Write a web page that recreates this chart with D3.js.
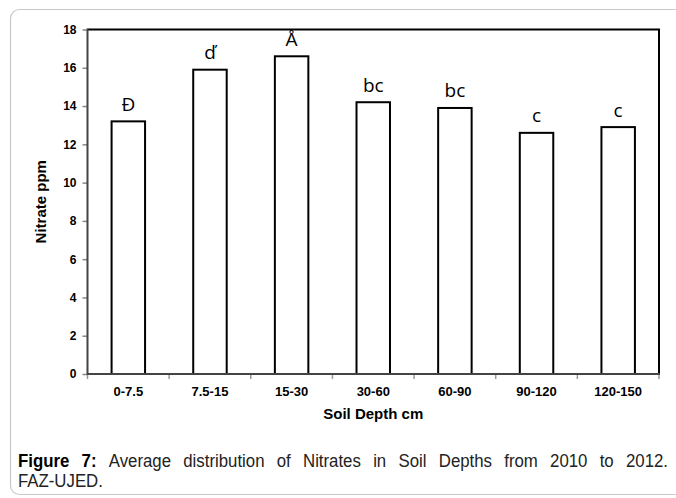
<!DOCTYPE html>
<html><head><meta charset="utf-8">
<script src="https://cdn.jsdelivr.net/npm/d3@7"></script>
<style>body{margin:0;background:#fff}svg{display:block}</style>
</head><body>
<svg id="c" width="676" height="498"></svg>
<script>
const categories = ["0-7.5","7.5-15","15-30","30-60","60-90","90-120","120-150"];
const values = [13.2, 15.9, 16.6, 14.2, 13.9, 12.6, 12.9];
const letters = ["Đ","ď","Å","bc","bc","c","c"];
const yTicks = [0,2,4,6,8,10,12,14,16,18];
const captionBold = "Figure 7:";
const captionLine1 = "Average distribution of Nitrates in Soil Depths from 2010 to 2012.";
const captionLine2 = "FAZ-UJED.";

const svg = d3.select("#c");
svg.append("rect").attr("x",10.5).attr("y",9.5).attr("width",720).attr("height",485)
  .attr("rx",9).attr("fill","#fff").attr("stroke","#c8c8c8").attr("stroke-width",1.2);

const L=87.5, R=659, T=29.5, B=374;
const x = d3.scaleBand().domain(categories).range([L,R]).paddingInner(0.59).paddingOuter(0.295);
const y = d3.scaleLinear().domain([0,18]).range([B,T]);
const sans = "Liberation Sans, Arial, sans-serif";

// y axis
const ya = svg.append("g").attr("transform",`translate(${L},0)`)
  .call(d3.axisLeft(y).tickValues(yTicks).tickSize(5).tickPadding(6));
ya.select(".domain").remove();
ya.selectAll("line").attr("stroke","#888").attr("stroke-width",1.5);
ya.selectAll("text").attr("font-family",sans).attr("font-weight","bold")
  .attr("font-size",12).attr("fill","#000");

// x ticks at band boundaries
const bounds = categories.map((c,i)=>L + i*(R-L)/categories.length).concat([R]);
svg.append("g").selectAll("line").data(bounds).join("line")
  .attr("x1",d=>d).attr("x2",d=>d).attr("y1",B).attr("y2",B+5)
  .attr("stroke","#999").attr("stroke-width",1.5);
const xa = svg.append("g").attr("transform",`translate(0,${B})`)
  .call(d3.axisBottom(x).tickSize(0).tickPadding(13));
xa.select(".domain").remove();
xa.selectAll("text").attr("font-family",sans).attr("font-weight","bold")
  .attr("font-size",13).attr("fill","#000");

// bars
svg.append("g").selectAll("rect").data(values).join("rect")
  .attr("x",(d,i)=>x(categories[i])).attr("width",x.bandwidth())
  .attr("y",d=>y(d)).attr("height",d=>B-y(d))
  .attr("fill","#fff").attr("stroke","#000").attr("stroke-width",2);

// letters
svg.append("g").selectAll("text").data(values).join("text")
  .attr("x",(d,i)=>x(categories[i])+x.bandwidth()/2)
  .attr("y",d=>y(d)-10.5).attr("text-anchor","middle")
  .attr("font-family","Open Sans, sans-serif").attr("font-size",19).attr("fill","#000")
  .text((d,i)=>letters[i]);

// frame
svg.append("line").attr("x1",L).attr("x2",R+1).attr("y1",T).attr("y2",T).attr("stroke","#000").attr("stroke-width",2);
svg.append("line").attr("x1",R).attr("x2",R).attr("y1",T).attr("y2",B).attr("stroke","#000").attr("stroke-width",2);
svg.append("line").attr("x1",L).attr("x2",L).attr("y1",T-1).attr("y2",B+1).attr("stroke","#444").attr("stroke-width",2);
svg.append("line").attr("x1",L).attr("x2",R+1).attr("y1",B).attr("y2",B).attr("stroke","#444").attr("stroke-width",2);

// axis titles
svg.append("text").attr("x",(L+R)/2).attr("y",418.5).attr("text-anchor","middle")
  .attr("font-family",sans).attr("font-weight","bold").attr("font-size",15)
  .text("Soil Depth cm");
svg.append("text").attr("transform",`translate(46,${(T+B)/2}) rotate(-90)`).attr("text-anchor","middle")
  .attr("font-family",sans).attr("font-weight","bold").attr("font-size",15)
  .text("Nitrate ppm");

// caption: justified first line, words placed individually
const sx = 0.96, fs = 17.5;
const words = captionBold.split(" ").map(t=>({t,b:true}))
  .concat(captionLine1.split(" ").map(t=>({t,b:false})));
const g1 = svg.append("g").attr("transform",`translate(18,467) scale(${sx},1)`);
const wt = g1.selectAll("text").data(words).join("text")
  .attr("y",0).attr("font-family",sans).attr("font-size",fs)
  .attr("font-weight",d=>d.b?"bold":"normal").attr("fill",d=>d.b?"#000":"#222")
  .text(d=>d.t);
const widths = wt.nodes().map(n=>n.getComputedTextLength());
const total = d3.sum(widths);
const gap = ((668-18)/sx - total)/(words.length-1);
let acc = 0;
const xs = widths.map(wd=>{const p=acc; acc+=wd+gap; return p;});
wt.attr("x",(d,i)=>xs[i]);
const g2 = svg.append("g").attr("transform",`translate(18,487) scale(${sx},1)`);
g2.append("text").attr("x",0).attr("y",0)
  .attr("font-family",sans).attr("font-size",fs).attr("fill","#222")
  .text(captionLine2);
</script>
</body></html>
